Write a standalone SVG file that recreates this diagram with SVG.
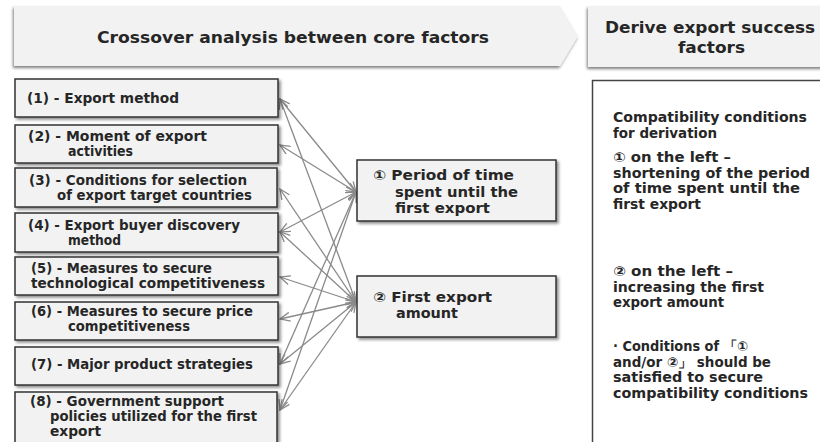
<svg xmlns="http://www.w3.org/2000/svg" width="820" height="442" viewBox="0 0 820 442">
<defs>
<filter id="sh" x="-10%" y="-10%" width="130%" height="140%">
<feDropShadow dx="2" dy="2" stdDeviation="1.5" flood-color="#000" flood-opacity="0.45"/>
</filter>
<filter id="hsh" x="-5%" y="-10%" width="110%" height="140%">
<feDropShadow dx="-1" dy="2" stdDeviation="1.5" flood-color="#000" flood-opacity="0.5"/>
</filter>
<marker id="arr" viewBox="0 0 12 10" refX="11" refY="5" markerWidth="12" markerHeight="10" markerUnits="userSpaceOnUse" orient="auto-start-reverse">
<path d="M1,0.5 L11,5 L1,9.5" fill="none" stroke="#8a8a8a" stroke-width="1.3"/>
</marker>
</defs>
<style>
.hdr{fill:#f2f2f2;filter:url(#hsh)}
.box{fill:#f2f2f2;stroke:#333;stroke-width:1.5;filter:url(#sh)}
text{font-family:"DejaVu Sans","Noto Sans",sans-serif;font-weight:bold;fill:#262626}
.t{font-size:13.5px}
.h{font-size:15.5px}
.r{font-size:13.5px}
.c line{stroke:#8a8a8a;stroke-width:1.3;marker-start:url(#arr);marker-end:url(#arr)}
</style>
<rect width="820" height="442" fill="#fff"/>

<g id="header1">
<polygon class="hdr" points="14,6 560,6 578,36 560,66 14,66"/>
<text class="h" x="97" y="43" textLength="392" lengthAdjust="spacingAndGlyphs">Crossover analysis between core factors</text>
</g>
<g id="header2">
<rect class="hdr" x="588" y="6" width="240" height="61"/>
<text class="h" x="605" y="33" textLength="210" lengthAdjust="spacingAndGlyphs">Derive export success</text>
<text class="h" x="678" y="53" textLength="67" lengthAdjust="spacingAndGlyphs">factors</text>
</g>

<g id="result">
<rect x="592.5" y="80.5" width="240" height="380" fill="#fff" stroke="#444" stroke-width="1.5"/>
<text class="r" x="613" y="122" textLength="194" lengthAdjust="spacingAndGlyphs">Compatibility conditions</text>
<text class="r" x="613" y="137.5" textLength="104" lengthAdjust="spacingAndGlyphs">for derivation</text>
<text class="r" x="613" y="162" textLength="118" lengthAdjust="spacingAndGlyphs">① on the left –</text>
<text class="r" x="613" y="177.5" textLength="197" lengthAdjust="spacingAndGlyphs">shortening of the period</text>
<text class="r" x="613" y="193" textLength="187" lengthAdjust="spacingAndGlyphs">of time spent until the</text>
<text class="r" x="613" y="208.5" textLength="88" lengthAdjust="spacingAndGlyphs">first export</text>
<text class="r" x="613" y="276" textLength="120" lengthAdjust="spacingAndGlyphs">② on the left –</text>
<text class="r" x="613" y="291.5" textLength="151" lengthAdjust="spacingAndGlyphs">increasing the first</text>
<text class="r" x="613" y="307" textLength="111" lengthAdjust="spacingAndGlyphs">export amount</text>
<text class="r" x="613" y="351" textLength="135" lengthAdjust="spacingAndGlyphs">· Conditions of 「①</text>
<text class="r" x="613" y="366.5" textLength="158" lengthAdjust="spacingAndGlyphs">and/or ②」 should be</text>
<text class="r" x="613" y="382" textLength="150" lengthAdjust="spacingAndGlyphs">satisfied to secure</text>
<text class="r" x="613" y="397.5" textLength="195" lengthAdjust="spacingAndGlyphs">compatibility conditions</text>
</g>

<g class="c" id="connectors">
<line x1="356" y1="192" x2="280" y2="99"/>
<line x1="356" y1="192" x2="280" y2="145"/>
<line x1="356" y1="192" x2="280" y2="232"/>
<line x1="356" y1="192" x2="280" y2="364"/>
<line x1="356" y1="192" x2="280" y2="410"/>
<line x1="356" y1="302" x2="280" y2="99"/>
<line x1="356" y1="302" x2="280" y2="189"/>
<line x1="356" y1="302" x2="280" y2="232"/>
<line x1="356" y1="302" x2="280" y2="277"/>
<line x1="356" y1="302" x2="280" y2="319"/>
<line x1="356" y1="302" x2="280" y2="364"/>
<line x1="356" y1="302" x2="280" y2="410"/>
</g>

<g id="f1">
<rect class="box" x="15" y="79" width="263" height="38"/>
<text class="t" x="27" y="103" textLength="152" lengthAdjust="spacingAndGlyphs">(1) - Export method</text>
</g>
<g id="f2">
<rect class="box" x="15" y="125" width="263" height="38"/>
<text class="t" x="28" y="141" textLength="179" lengthAdjust="spacingAndGlyphs">(2) - Moment of export</text>
<text class="t" x="68" y="155.5" textLength="65" lengthAdjust="spacingAndGlyphs">activities</text>
</g>
<g id="f3">
<rect class="box" x="15" y="168" width="262" height="39"/>
<text class="t" x="29" y="185" textLength="218" lengthAdjust="spacingAndGlyphs">(3) - Conditions for selection</text>
<text class="t" x="57" y="200" textLength="195" lengthAdjust="spacingAndGlyphs">of export target countries</text>
</g>
<g id="f4">
<rect class="box" x="15" y="213" width="263" height="39"/>
<text class="t" x="28" y="230" textLength="212" lengthAdjust="spacingAndGlyphs">(4) - Export buyer discovery</text>
<text class="t" x="68" y="244.5" textLength="53" lengthAdjust="spacingAndGlyphs">method</text>
</g>
<g id="f5">
<rect class="box" x="15" y="257" width="263" height="38"/>
<text class="t" x="31" y="273" textLength="181" lengthAdjust="spacingAndGlyphs">(5) - Measures to secure</text>
<text class="t" x="31" y="288" textLength="234" lengthAdjust="spacingAndGlyphs">technological  competitiveness</text>
</g>
<g id="f6">
<rect class="box" x="15" y="302" width="263" height="38"/>
<text class="t" x="31" y="316" textLength="222" lengthAdjust="spacingAndGlyphs">(6) - Measures to secure price</text>
<text class="t" x="68" y="331" textLength="122" lengthAdjust="spacingAndGlyphs">competitiveness</text>
</g>
<g id="f7">
<rect class="box" x="15" y="347" width="263" height="38"/>
<text class="t" x="31" y="369" textLength="222" lengthAdjust="spacingAndGlyphs">(7) - Major product strategies</text>
</g>
<g id="f8">
<rect class="box" x="15" y="392" width="262" height="60"/>
<text class="t" x="30" y="406" textLength="194" lengthAdjust="spacingAndGlyphs">(8) - Government support</text>
<text class="t" x="50" y="421" textLength="207" lengthAdjust="spacingAndGlyphs">policies utilized  for the first</text>
<text class="t" x="50" y="436" textLength="51" lengthAdjust="spacingAndGlyphs">export</text>
</g>

<g id="c1">
<rect class="box" x="357" y="160" width="199" height="61"/>
<text class="t" x="373" y="180" textLength="141" lengthAdjust="spacingAndGlyphs">① Period of time</text>
<text class="t" x="395" y="196.5" textLength="123" lengthAdjust="spacingAndGlyphs">spent until the</text>
<text class="t" x="395" y="213" textLength="95" lengthAdjust="spacingAndGlyphs">first export</text>
</g>
<g id="c2">
<rect class="box" x="357" y="276" width="199" height="61"/>
<text class="t" x="373" y="302" textLength="119" lengthAdjust="spacingAndGlyphs">② First export</text>
<text class="t" x="396" y="318" textLength="62" lengthAdjust="spacingAndGlyphs">amount</text>
</g>
</svg>
